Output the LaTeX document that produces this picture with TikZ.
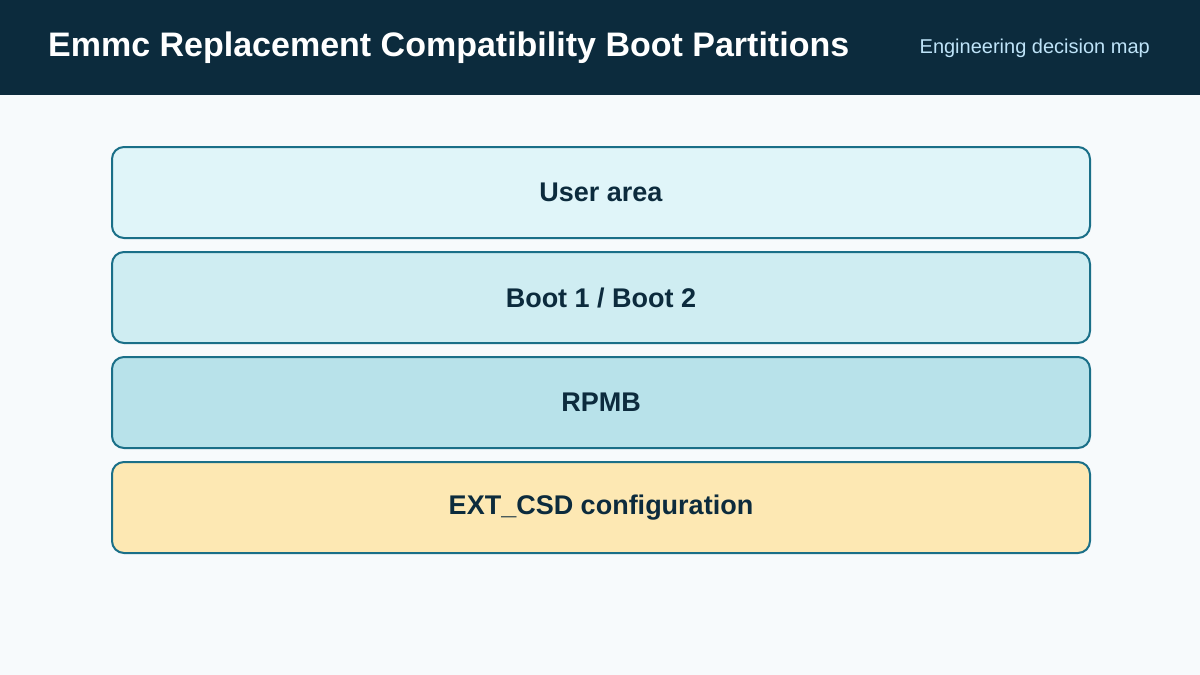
\documentclass[tikz,border=0pt]{standalone}
\usepackage{fontspec}
\setmainfont{Liberation Sans}
\begin{document}
\begin{tikzpicture}[x=1pt,y=-1pt,
  box/.style={draw=bord,line width=2pt,rounded corners=12pt,minimum width=978pt,minimum height=91pt,anchor=north west,font=\bfseries\fontsize{27}{31}\selectfont,text=ink}]
\definecolor{head}{HTML}{0C2B3D}
\definecolor{bg}{HTML}{F7FAFC}
\definecolor{bord}{HTML}{1A6F88}
\definecolor{ink}{HTML}{0C2B3D}
\definecolor{fa}{HTML}{E0F5F9}
\definecolor{fb}{HTML}{CFEDF2}
\definecolor{fc}{HTML}{B8E2EA}
\definecolor{fd}{HTML}{FDE8B3}
\definecolor{sub}{HTML}{BEE3F8}
\fill[bg] (0,0) rectangle (1200,675);
\useasboundingbox (0,0) rectangle (1200,675);
\fill[head] (0,0) rectangle (1200,95);
\node[anchor=west,inner sep=0pt,text=white,font=\bfseries\fontsize{34}{38}\selectfont] (title) at (48,48) {Emmc Replacement Compatibility Boot Partitions};
\node[anchor=east,inner sep=0pt,text=sub,font=\fontsize{20}{24}\selectfont] (subt) at (1150,48) {Engineering decision map};
\node[box,fill=fa] (b1) at (111,146) {User area};
\node[box,fill=fb] (b2) at (111,251) {Boot 1 / Boot 2};
\node[box,fill=fc] (b3) at (111,356) {RPMB};
\node[box,fill=fd] (b4) at (111,461) {EXT\_CSD configuration};
\end{tikzpicture}
\end{document}
